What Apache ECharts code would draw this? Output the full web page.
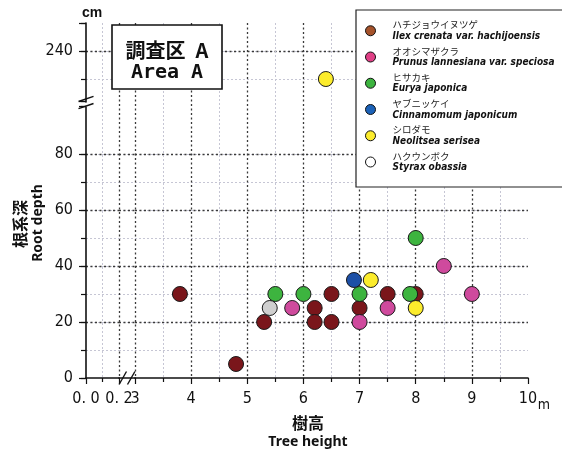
<!DOCTYPE html>
<html><head><meta charset="utf-8">
<script src="https://cdn.jsdelivr.net/npm/echarts@6/dist/echarts.min.js"></script>
<style>html,body{margin:0;padding:0;background:#fff}#c{width:562px;height:452px}</style>
</head><body><div id="c"></div>
<script>
// ---- data ----
const speciesLatin = ['Ilex crenata var. hachijoensis', 'Prunus lannesiana var. speciosa', 'Eurya japonica', 'Cinnamomum japonicum', 'Neolitsea serisea', 'Styrax obassia'];
const speciesKana = ['ハチジョウイヌツゲ', 'オオシマザクラ', 'ヒサカキ', 'ヤブニッケイ', 'シロダモ', 'ハクウンボク'];
// tree height (m) / root depth (cm)
const ilexHeight   = [3.8, 4.8, 5.3, 6.2, 6.2, 6.5, 6.5, 7.0, 7.5, 8.0];
const ilexDepth    = [30, 5, 20, 25, 20, 30, 20, 25, 30, 30];
const prunusHeight = [5.8, 7.0, 7.5, 8.5, 9.0];
const prunusDepth  = [25, 20, 25, 40, 30];
const euryaHeight  = [5.5, 6.0, 7.0, 7.9, 8.0];
const euryaDepth   = [30, 30, 30, 30, 50];
const cinnHeight   = [6.9];
const cinnDepth    = [35];
const neoHeight    = [7.2, 8.0, 6.4];
const neoDepth     = [35, 25, 230];
const styraxHeight = [5.4];
const styraxDepth  = [25];
// axis ticks
const xTickValuesA = [0, 0.2];
const xTickTextA   = ['0. 0', '0. 2'];
const xTickValuesB = [3, 4, 5, 6, 7, 8, 9, 10];
const yTickValues  = [0, 20, 40, 60, 80, 240];
const yBreak = [97, 222];

// ---- styles ----
const NARROW = "'Liberation Sans Narrow','Arial Narrow','DejaVu Sans Condensed',sans-serif";
const CJK = "'Noto Sans CJK JP','Noto Sans CJK SC',sans-serif";
const colors = ['#7a161b', '#cf4a9d', '#3db43f', '#1c4fa6', '#fcec2c', '#cfcfcf'];
const legendColors = ['#a5522a', '#e03f86', '#3db43f', '#1c62b8', '#fcec2c', '#ffffff'];
const darkLine = {color: '#3a3a3a', width: 1.3, type: [2, 2.5]};
const lightLine = {color: '#c6c6d4', width: 1, type: [2, 2]};

const zip = (a, b) => a.map((v, i) => [v, b[i]]);
const seriesData = [
  zip(ilexHeight, ilexDepth), zip(prunusHeight, prunusDepth), zip(euryaHeight, euryaDepth),
  zip(cinnHeight, cinnDepth), zip(neoHeight, neoDepth), zip(styraxHeight, styraxDepth)
];

const grids = [
  {left: 86, width: 33, top: 23, bottom: 74},
  {left: 135, right: 34, top: 23, bottom: 74},
  {left: 119, width: 16, top: 23, bottom: 74}
];

function yAxisPair(gridIndex, withLabels) {
  const base = {
    gridIndex, type: 'value', min: 0, max: 250, position: 'left', offset: 0,
    breaks: [{start: yBreak[0], end: yBreak[1], gap: '1.4%'}],
    breakArea: {show: false}
  };
  return [
    Object.assign({}, base, {
      interval: 10,
      axisLine: {show: false},
      axisTick: {show: withLabels, length: 5, lineStyle: {color: '#111', width: 1.2}},
      axisLabel: {show: false},
      splitLine: {show: true, lineStyle: lightLine, showMinLine: false, showMaxLine: false}
    }),
    Object.assign({}, base, {
      interval: 20,
      axisLine: {show: withLabels, lineStyle: {color: '#111', width: 1.6}},
      axisTick: {show: withLabels, length: 7, lineStyle: {color: '#111', width: 1.2}},
      axisLabel: {
        show: withLabels, fontSize: 16, color: '#111', fontFamily: NARROW, margin: 13,
        formatter: v => (yTickValues.indexOf(v) >= 0 ? String(v) : '')
      },
      splitLine: {show: true, lineStyle: darkLine, showMinLine: false, showMaxLine: false}
    })
  ];
}

const yAxes = [].concat(yAxisPair(0, true), yAxisPair(1, false), yAxisPair(2, false));

const xAxes = [
  {
    gridIndex: 0, type: 'value', min: 0, max: 0.2, interval: 0.2, position: 'bottom',
    axisLine: {lineStyle: {color: '#111', width: 1.6}},
    axisTick: {length: 6, lineStyle: {color: '#111', width: 1.2}},
    minorTick: {show: true, splitNumber: 2, length: 4, lineStyle: {color: '#111', width: 1.2}},
    axisLabel: {
      fontSize: 16, color: '#111', fontFamily: NARROW, margin: 13,
      formatter: v => { const i = xTickValuesA.findIndex(t => Math.abs(t - v) < 1e-9); return i >= 0 ? xTickTextA[i] : ''; }
    },
    splitLine: {show: true, lineStyle: darkLine, showMinLine: false, showMaxLine: true},
    minorSplitLine: {show: true, lineStyle: lightLine}
  },
  {
    gridIndex: 1, type: 'value', min: 3, max: 10, interval: 1, position: 'bottom',
    axisLine: {lineStyle: {color: '#111', width: 1.6}},
    axisTick: {length: 6, lineStyle: {color: '#111', width: 1.2}},
    minorTick: {show: true, splitNumber: 2, length: 4, lineStyle: {color: '#111', width: 1.2}},
    axisLabel: {
      fontSize: 16, color: '#111', fontFamily: NARROW, margin: 13,
      formatter: v => (xTickValuesB.indexOf(v) >= 0 ? String(v) : '')
    },
    splitLine: {show: true, lineStyle: darkLine, showMinLine: true, showMaxLine: false},
    minorSplitLine: {show: true, lineStyle: lightLine}
  },
  {
    gridIndex: 2, type: 'value', min: 0, max: 1, position: 'bottom',
    axisLine: {lineStyle: {color: '#111', width: 1.6}},
    axisTick: {show: false}, axisLabel: {show: false}, splitLine: {show: false}
  }
];

const series = speciesLatin.map((name, i) => ({
  name, type: 'scatter', xAxisIndex: 1, yAxisIndex: 3,
  data: seriesData[i], symbolSize: 15,
  itemStyle: {color: colors[i], borderColor: '#1a1a1a', borderWidth: 1, opacity: 1},
  emphasis: {disabled: true}, z: 5
}));

const chart = echarts.init(document.getElementById('c'), null, {renderer: 'canvas'});
chart.setOption({
  animation: false,
  backgroundColor: '#fff',
  grid: grids,
  xAxis: xAxes,
  yAxis: yAxes,
  legend: {
    orient: 'vertical', left: 356, top: 10, z: 10,
    padding: [10, 10, 14, 9], itemGap: 5,
    borderWidth: 0,
    icon: 'circle', itemWidth: 10, itemHeight: 10,
    selectedMode: false,
    data: speciesLatin.map((n, i) => ({name: n, itemStyle: {color: legendColors[i], borderColor: '#111', borderWidth: 1}})),
    formatter: name => '{ja|' + speciesKana[speciesLatin.indexOf(name)] + '}\n{la|' + name + '}',
    textStyle: {
      rich: {
        ja: {fontSize: 9.5, fontFamily: CJK, color: '#222', lineHeight: 11, padding: [0, 0, 0, 12]},
        la: {fontSize: 10, fontFamily: NARROW, fontWeight: 'bold', fontStyle: 'italic', color: '#111', lineHeight: 12, padding: [0, 0, 0, 12]}
      }
    }
  },
  series
});

// decorations: break marks, titles, area label box, legend frame
const yAx = chart.convertToPixel({xAxisIndex: 0}, 0);
const yLow = chart.convertToPixel({yAxisIndex: 1}, 90);
const yHigh = chart.convertToPixel({yAxisIndex: 1}, 230);
const yMid = (yLow + yHigh) / 2;
const xAxY = chart.convertToPixel({yAxisIndex: 1}, 0);
const xA = chart.convertToPixel({xAxisIndex: 0}, 0.2);
const xB = chart.convertToPixel({xAxisIndex: 1}, 3);
const xMid = (xA + xB) / 2;

function yBreakMark(cx, cy) {
  const w = 7.5, h = 2.6, d = 3.6;
  return {
    type: 'group', z: 100, children: [
      {type: 'polygon', shape: {points: [[cx - w, cy - d + h], [cx + w, cy - d - h], [cx + w, cy + d - h], [cx - w, cy + d + h]]}, style: {fill: '#fff'}},
      {type: 'line', shape: {x1: cx - w, y1: cy - d + h, x2: cx + w, y2: cy - d - h}, style: {stroke: '#111', lineWidth: 1.4}},
      {type: 'line', shape: {x1: cx - w, y1: cy + d + h, x2: cx + w, y2: cy + d - h}, style: {stroke: '#111', lineWidth: 1.4}}
    ]
  };
}
function xBreakMark(cx, cy) {
  const w = 3.7, h = 6.5, d = 4.2;
  return {
    type: 'group', z: 100, children: [
      {type: 'polygon', shape: {points: [[cx - d - w, cy + h], [cx - d + w, cy - h], [cx + d + w, cy - h], [cx + d - w, cy + h]]}, style: {fill: '#fff'}},
      {type: 'line', shape: {x1: cx - d - w, y1: cy + h, x2: cx - d + w, y2: cy - h}, style: {stroke: '#111', lineWidth: 1.4}},
      {type: 'line', shape: {x1: cx + d - w, y1: cy + h, x2: cx + d + w, y2: cy - h}, style: {stroke: '#111', lineWidth: 1.4}}
    ]
  };
}

chart.setOption({
  graphic: [
    {type: 'rect', z: 8, shape: {x: 356, y: 10, width: 230, height: 177}, style: {fill: '#fff', stroke: '#222', lineWidth: 1.2}},
    yBreakMark(yAx, yMid),
    xBreakMark(xMid, xAxY),
    {type: 'text', x: 92, y: 13, z: 100, style: {text: 'cm', fontSize: 14, fontWeight: 'bold', fontFamily: "'Liberation Sans',sans-serif", fill: '#111', align: 'center', verticalAlign: 'middle'}},
    {type: 'text', x: 544, y: 405, z: 100, style: {text: 'm', fontSize: 14, fontFamily: NARROW, fill: '#111', align: 'center', verticalAlign: 'middle'}},
    {type: 'text', x: 308, y: 423, z: 100, style: {text: '樹高', fontSize: 16, fontWeight: 'bold', fontFamily: CJK, fill: '#111', align: 'center', verticalAlign: 'middle'}},
    {type: 'text', x: 308, y: 442, z: 100, style: {text: 'Tree height', fontSize: 14, fontWeight: 'bold', fontFamily: "'Noto Sans',sans-serif", fill: '#111', align: 'center', verticalAlign: 'middle'}},
    {type: 'text', x: 20, y: 224, rotation: Math.PI / 2, z: 100, style: {text: '根系深', fontSize: 16, fontWeight: 'bold', fontFamily: CJK, fill: '#111', align: 'center', verticalAlign: 'middle'}},
    {type: 'text', x: 38, y: 223, rotation: Math.PI / 2, z: 100, style: {text: 'Root depth', fontSize: 14, fontWeight: 'bold', fontFamily: "'Noto Sans',sans-serif", fill: '#111', align: 'center', verticalAlign: 'middle'}},
    {type: 'rect', z: 100, shape: {x: 112, y: 25, width: 110, height: 64}, style: {fill: '#fff', stroke: '#111', lineWidth: 1.6}},
    {type: 'text', x: 167, y: 50, z: 101, style: {text: '調査区\u2002A', fontSize: 20, fontWeight: 'bold', fontFamily: CJK, fill: '#111', align: 'center', verticalAlign: 'middle'}},
    {type: 'text', x: 167, y: 73, z: 101, style: {text: 'Area A', fontSize: 20, fontWeight: 'bold', fontFamily: "'DejaVu Sans Mono',monospace", fill: '#111', align: 'center', verticalAlign: 'middle'}}
  ]
});
</script></body></html>
